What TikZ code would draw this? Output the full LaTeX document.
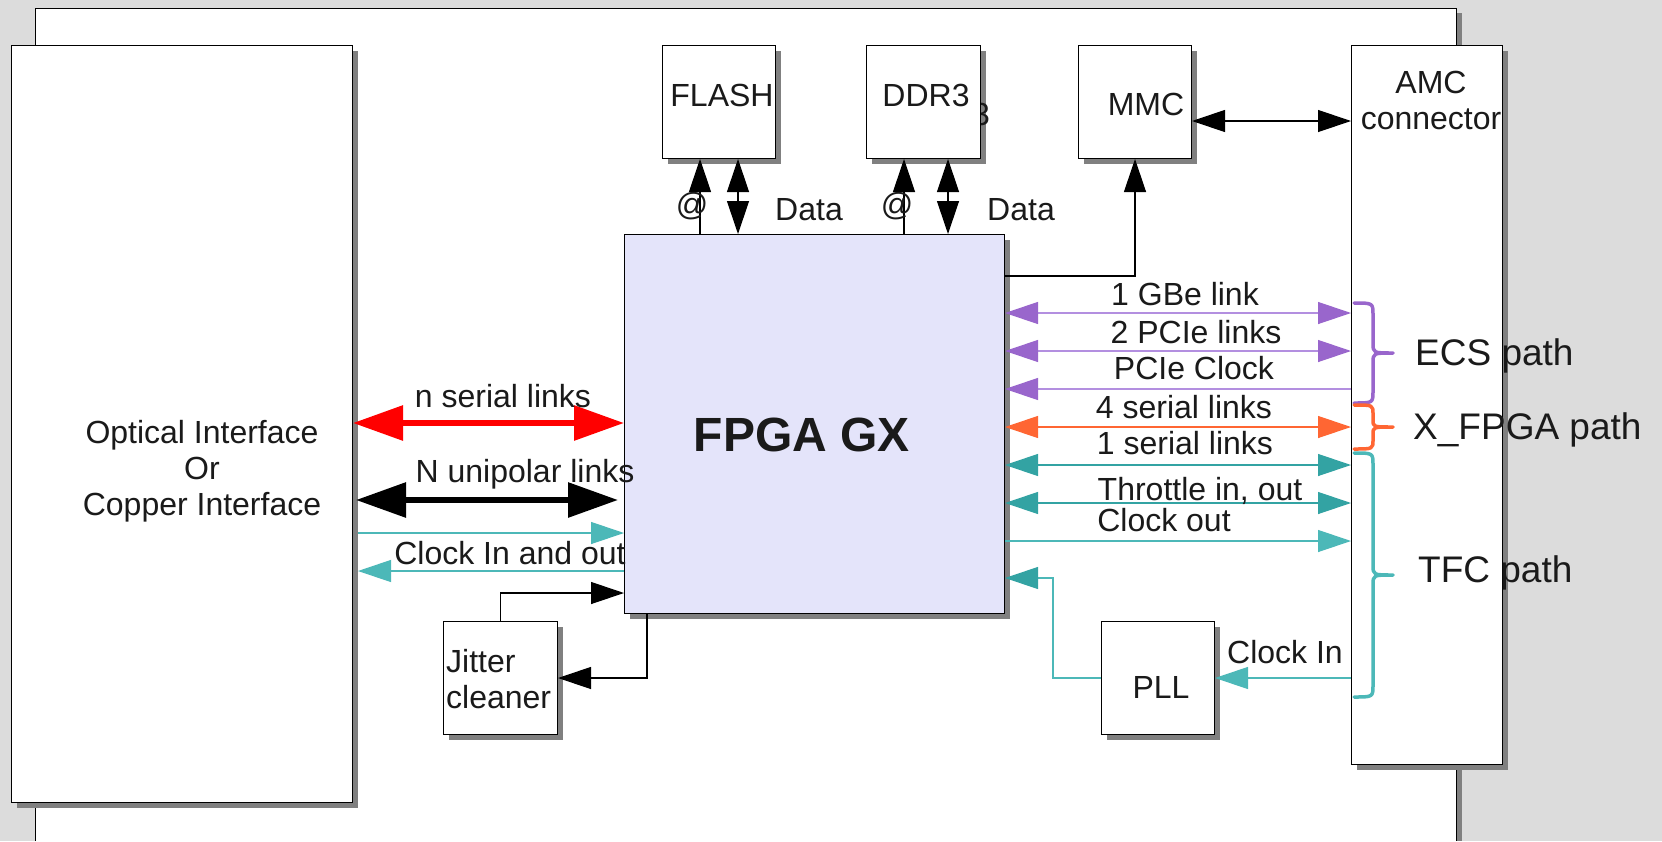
\documentclass[tikz,border=0pt]{standalone}
\usepackage{fontspec}
\setmainfont{Liberation Sans}
\usetikzlibrary{arrows.meta,shadows}
\definecolor{bggray}{HTML}{DCDCDC}
\definecolor{shgray}{HTML}{808080}
\definecolor{fpgafill}{HTML}{E4E4FA}
\definecolor{ecs}{HTML}{9966CC}
\definecolor{ecsline}{HTML}{B38FE0}
\definecolor{xfp}{HTML}{FF6633}
\definecolor{tealD}{HTML}{33A3A3}
\definecolor{tealL}{HTML}{4CB8B8}
\definecolor{txt}{HTML}{1A1A1A}
\begin{document}
\begin{tikzpicture}[x=1pt,y=-1pt,
  box/.style={draw=black, line width=1pt, fill=white, inner sep=0pt, anchor=north west,
    drop shadow={shadow xshift=5pt, shadow yshift=-5pt, fill=shgray, opacity=1}},
  lbl/.style={font=\fontsize{32}{36}\selectfont, text=txt, inner sep=0pt},
  one/.style={text height=23pt, text depth=0pt},
  plbl/.style={font=\fontsize{37}{40}\selectfont, text=txt, inner sep=0pt, anchor=west, text height=27pt, text depth=0pt},
  conn/.style={line width=1.2pt},
  >={Triangle[length=33pt,width=22pt]},
  fat/.style={line width=6pt, arrows={Triangle[length=50pt,width=34pt]-Triangle[length=50pt,width=34pt]}},
  brc/.style={line width=3.5pt, line cap=round, line join=round},
]
\fill[bggray] (0,0) rectangle (1662,841);
\useasboundingbox (0,0) rectangle (1662,841);
% back panel
\fill[shgray] (1456,13) rectangle (1462,841);
\fill[white] (35,8) rectangle (1456,841);
\draw[line width=1pt] (35,841) -- (35,8) -- (1456,8) -- (1456,841);

% boxes
\node[box, minimum width=341pt, minimum height=757pt] (optic) at (11,45) {};
\node[box, minimum width=113pt, minimum height=113pt] (flash) at (662,45) {};
\node[box, minimum width=114pt, minimum height=113pt] (ddr) at (866,45) {};
\begin{scope}
  \clip (ddr.north east) rectangle ([xshift=20pt,yshift=-120pt]ddr.north east);
  \node[lbl, one] (stray) at (981,114) {3};
\end{scope}
\node[box, minimum width=113pt, minimum height=113pt] (mmc) at (1078,45) {};
\node[box, minimum width=151pt, minimum height=719pt] (amc) at (1351,45) {};
\node[box, fill=fpgafill, minimum width=380pt, minimum height=379pt] (fpga) at (624,234) {};
\node[box, minimum width=114pt, minimum height=113pt] (jit) at (443,621) {};
\node[box, minimum width=113pt, minimum height=113pt] (pll) at (1101,621) {};

% levels
\coordinate (xFa) at (700,0);
\coordinate (xFd) at (738,0);
\coordinate (xDa) at (904,0);
\coordinate (xDd) at (948,0);
\coordinate (yMmc) at (0,276);
\coordinate (yAmc) at (0,121);
\coordinate (yGbe) at (0,313);
\coordinate (yPcie) at (0,351);
\coordinate (yPclk) at (0,389);
\coordinate (ySer4) at (0,427);
\coordinate (ySer1) at (0,465);
\coordinate (yThr) at (0,503);
\coordinate (yClkO) at (0,541);
\coordinate (bend) at (1053,578);
\coordinate (yRed) at (0,423);
\coordinate (yBlk) at (0,500);
\coordinate (yCin) at (0,533);
\coordinate (yCout) at (0,571);
\coordinate (yJit) at (0,593);
\coordinate (fdrop) at (647,0);

% top connectors
\draw[conn, ->] (fpga.north -| xFa) -- (flash.south -| xFa);
\draw[conn, <->] (fpga.north -| xFd) -- (flash.south -| xFd);
\draw[conn, ->] (fpga.north -| xDa) -- (ddr.south -| xDa);
\draw[conn, <->] (fpga.north -| xDd) -- (ddr.south -| xDd);
\draw[conn, ->] (fpga.east |- yMmc) -| (mmc.south);
\draw[conn, <->] (mmc.east |- yAmc) -- (amc.west |- yAmc);

% right connectors
\draw[conn, ecsline, arrows={Triangle[length=33pt,width=22pt,color=ecs]-Triangle[length=33pt,width=22pt,color=ecs]}] (fpga.east |- yGbe) -- (amc.west |- yGbe);
\draw[conn, ecsline, arrows={Triangle[length=33pt,width=22pt,color=ecs]-Triangle[length=33pt,width=22pt,color=ecs]}] (fpga.east |- yPcie) -- (amc.west |- yPcie);
\draw[conn, ecsline, arrows={Triangle[length=33pt,width=22pt,color=ecs]-}] (fpga.east |- yPclk) -- (amc.west |- yPclk);
\draw[conn, xfp, <->] (fpga.east |- ySer4) -- (amc.west |- ySer4);
\draw[conn, tealD, <->] (fpga.east |- ySer1) -- (amc.west |- ySer1);
\draw[conn, tealD, <->] (fpga.east |- yThr) -- (amc.west |- yThr);
\draw[conn, tealL, ->] (fpga.east |- yClkO) -- (amc.west |- yClkO);
\draw[conn, tealL, ->] (amc.west |- pll.east) -- (pll.east);
\draw[conn, tealL, arrows={-Triangle[length=33pt,width=22pt,color=tealD]}] (pll.west) -| (bend) -- (fpga.east |- bend);

% left connectors
\draw[fat, red] (optic.east |- yRed) -- (fpga.west |- yRed);
\draw[fat, black, shorten <=3pt, shorten >=6pt] (optic.east |- yBlk) -- (fpga.west |- yBlk);
\draw[conn, tealL, ->, shorten <=5pt] (optic.east |- yCin) -- (fpga.west |- yCin);
\draw[conn, tealL, ->, shorten >=5pt] (fpga.west |- yCout) -- (optic.east |- yCout);
\draw[conn, ->] (jit.north) |- (fpga.west |- yJit);
\draw[conn, ->] (fpga.south -| fdrop) |- (jit.east);

% braces
\draw[brc, ecs] (1354,303) .. controls (1373,303) .. (1373,315) -- (1373,343) .. controls (1373,353) .. (1393,353) .. controls (1373,353) .. (1373,363) -- (1373,391) .. controls (1373,403) .. (1354,403);
\draw[brc, xfp] (1354,405) .. controls (1373,405) .. (1373,414) -- (1373,420) .. controls (1373,427) .. (1393,427) .. controls (1373,427) .. (1373,434) -- (1373,440) .. controls (1373,449) .. (1354,449);
\draw[brc, tealL] (1354,453) .. controls (1373,453) .. (1373,465) -- (1373,565) .. controls (1373,575) .. (1393,575) .. controls (1373,575) .. (1373,585) -- (1373,685) .. controls (1373,697) .. (1354,697);

% texts
\node[lbl, align=center] (opticT) at (202,471) {Optical Interface\\Or\\Copper Interface};
\node[lbl, one] (flashT) at (722,95) {FLASH};
\node[lbl, one] (ddrT) at (926,95) {DDR3};
\node[lbl, one] (mmcT) at (1146,104) {MMC};
\node[lbl, align=center] (amcT) at (1431,100) {AMC\\connector};
\node[font=\bfseries\fontsize{48}{52}\selectfont, text=txt, inner sep=0pt, text height=35pt, text depth=0pt] (fpgaT) at (802,434) {FPGA GX};
\node[lbl, one] (pllT) at (1161,687) {PLL};
\node[lbl, align=left, anchor=west] (jitT) at (446,679) {Jitter\\cleaner};
\node[lbl, one] (faT) at (692,204) {@};
\node[lbl, one] (fdT) at (809,209) {Data};
\node[lbl, one] (daT) at (897,204) {@};
\node[lbl, one] (ddT) at (1021,209) {Data};
\node[lbl, one] (gbeT) at (1185,294) {1 GBe link};
\node[lbl, one] (pcieT) at (1196,332) {2 PCIe links};
\node[lbl, one] (pclkT) at (1194,368) {PCIe Clock};
\node[lbl, one] (s4T) at (1184,407) {4 serial links};
\node[lbl, one] (s1T) at (1185,443) {1 serial links};
\node[lbl, one] (thrT) at (1200,489) {Throttle in, out};
\node[lbl, one] (cloT) at (1164,520) {Clock out};
\node[lbl, one] (cliT) at (1285,652) {Clock In};
\node[lbl, one] (nserT) at (503,396) {n serial links};
\node[lbl, one] (nuniT) at (525,471) {N unipolar links};
\node[lbl, one] (cinoT) at (510,553) {Clock In and out};
\node[plbl] (ecsT) at (1415,352) {ECS path};
\node[plbl] (xfT) at (1413,426) {X\_FPGA path};
\node[plbl] (tfcT) at (1418,569) {TFC path};
\end{tikzpicture}
\end{document}
